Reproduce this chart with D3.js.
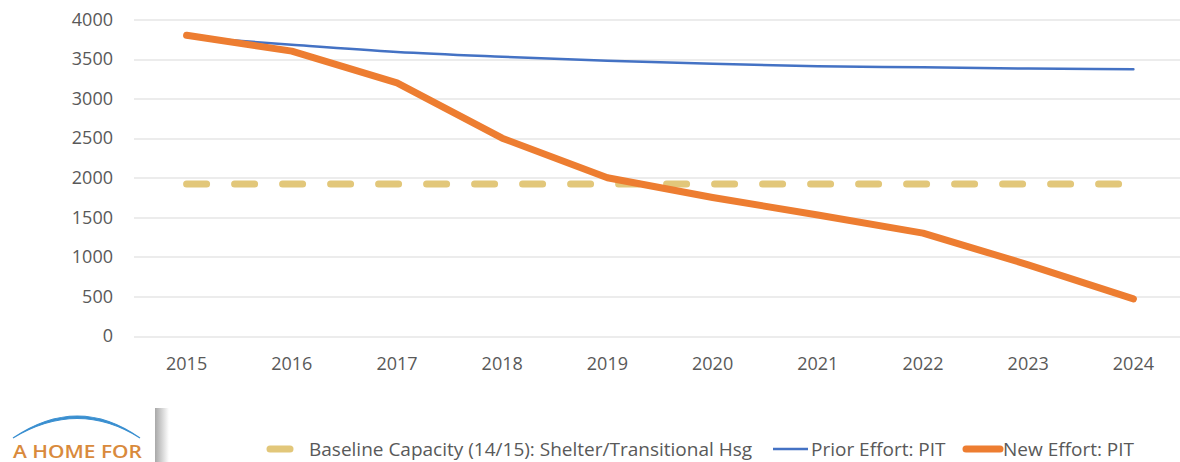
<!DOCTYPE html>
<html>
<head>
<meta charset="utf-8">
<script src="https://cdn.jsdelivr.net/npm/d3@7"></script>
<style>
    body { margin: 0; background: #fff; }
    svg { display: block; font-family: "Open Sans", sans-serif; }
</style>
</head>
<body>
<div id="wrapper"></div>
<script>
const years = ["2015","2016","2017","2018","2019","2020","2021","2022","2023","2024"];
const baseline = [1920,1920,1920,1920,1920,1920,1920,1920,1920,1920];
const priorEffort = [3780,3680,3590,3530,3480,3440,3410,3395,3380,3370];
const newEffort = [3800,3600,3200,2500,2000,1750,1530,1300,900,470];
const yTicks = [0,500,1000,1500,2000,2500,3000,3500,4000];

function build() {
    var dimension = {
        width: 1180,
        height: 462,
        margin: { top: 19.5, right: -6, bottom: 126, left: 134 }
    };
    dimension.boundedWidth = dimension.width - dimension.margin.left - dimension.margin.right;
    dimension.boundedHeight = dimension.height - dimension.margin.top - dimension.margin.bottom;

    const wrapper = d3.select("#wrapper")
        .append("svg")
        .attr("width", dimension.width)
        .attr("height", dimension.height);

    const bounds = wrapper.append("g")
        .attr("transform", `translate(${dimension.margin.left},${dimension.margin.top})`);

    const x = d3.scaleBand()
        .domain(years)
        .range([0, dimension.boundedWidth]);
    const xc = d => x(d) + x.bandwidth() / 2;

    const y = d3.scaleLinear()
        .domain([0, 4000])
        .range([dimension.boundedHeight, 0]);

    // gridlines
    bounds.append("g")
        .selectAll("line")
        .data(yTicks)
        .enter()
        .append("line")
        .attr("x1", 0)
        .attr("x2", dimension.boundedWidth)
        .attr("y1", d => Math.round(y(d)) + 0.5)
        .attr("y2", d => Math.round(y(d)) + 0.5)
        .style("stroke", "#d9d9d9")
        .style("stroke-width", 1);

    // y labels
    bounds.append("g")
        .selectAll("text")
        .data(yTicks)
        .enter()
        .append("text")
        .attr("x", -21)
        .attr("y", d => y(d))
        .attr("dy", "0.35em")
        .style("text-anchor", "end")
        .style("font-size", "18px")
        .style("fill", "#595959")
        .text(d => d);

    // x labels
    bounds.append("g")
        .selectAll("text")
        .data(years)
        .enter()
        .append("text")
        .attr("x", d => xc(d))
        .attr("y", dimension.boundedHeight + 28)
        .attr("dy", "0.35em")
        .style("text-anchor", "middle")
        .style("font-size", "18px")
        .style("fill", "#595959")
        .text(d => d);

    const line = d3.line()
        .x((d, i) => xc(years[i]))
        .y(d => y(d));

    bounds.append("path")
        .datum(baseline)
        .attr("d", line)
        .style("fill", "none")
        .style("stroke", "#e2c77a")
        .style("stroke-width", 7)
        .style("stroke-linecap", "round")
        .style("stroke-dasharray", "20,28");

    bounds.append("path")
        .datum(priorEffort)
        .attr("d", line.curve(d3.curveMonotoneX))
        .style("fill", "none")
        .style("stroke", "#4472c4")
        .style("stroke-width", 2.5)
        .style("stroke-linecap", "round");

    bounds.append("path")
        .datum(newEffort)
        .attr("d", d3.line().x((d, i) => xc(years[i])).y(d => y(d)))
        .style("fill", "none")
        .style("stroke", "#ed7d31")
        .style("stroke-width", 7)
        .style("stroke-linecap", "round")
        .style("stroke-linejoin", "round");

    // legend
    const legendItems = [
        { name: "Baseline Capacity (14/15): Shelter/Transitional Hsg", color: "#e2c77a", w: 7, x1: 270, x2: 290, tx: 309 },
        { name: "Prior Effort: PIT", color: "#4472c4", w: 2.5, x1: 773, x2: 808, tx: 811 },
        { name: "New Effort: PIT", color: "#ed7d31", w: 7, x1: 966, x2: 1000, tx: 1003 }
    ];
    const legend = wrapper.append("g");
    legend.selectAll("line")
        .data(legendItems)
        .enter()
        .append("line")
        .attr("x1", d => d.x1)
        .attr("x2", d => d.x2)
        .attr("y1", 449)
        .attr("y2", 449)
        .style("stroke", d => d.color)
        .style("stroke-width", d => d.w)
        .style("stroke-linecap", d => d.w > 3 ? "round" : "butt");
    legend.selectAll("text")
        .data(legendItems)
        .enter()
        .append("text")
        .attr("x", d => d.tx)
        .attr("y", 449)
        .attr("dy", "0.35em")
        .style("font-size", "19px")
        .style("fill", "#595959")
        .text(d => d.name);

    // logo box
    const defs = wrapper.append("defs");
    const shadow = defs.append("linearGradient").attr("id", "shadow");
    shadow.append("stop").attr("offset", "0%").attr("stop-color", "#a8a8a8");
    shadow.append("stop").attr("offset", "100%").attr("stop-color", "#ffffff");
    const logo = wrapper.append("g");
    logo.append("rect")
        .attr("x", 155).attr("y", 408).attr("width", 14).attr("height", 54)
        .style("fill", "url(#shadow)");
    logo.append("rect")
        .attr("x", 0).attr("y", 402).attr("width", 155).attr("height", 60)
        .style("fill", "#fff");
    logo.append("path")
        .attr("d", "M13,438 Q78,394 140,438 Q78,399 13,438 Z")
        .style("fill", "#3a8fd0")
        .style("stroke", "#3a8fd0")
        .style("stroke-width", 1.2);
    logo.append("text")
        .attr("x", 13)
        .attr("y", 458)
        .attr("textLength", 129)
        .attr("lengthAdjust", "spacingAndGlyphs")
        .style("font-size", "18px")
        .style("font-weight", "600")
        .style("fill", "#d98a3c")
        .text("A HOME FOR");
}

build();
</script>
</body>
</html>
